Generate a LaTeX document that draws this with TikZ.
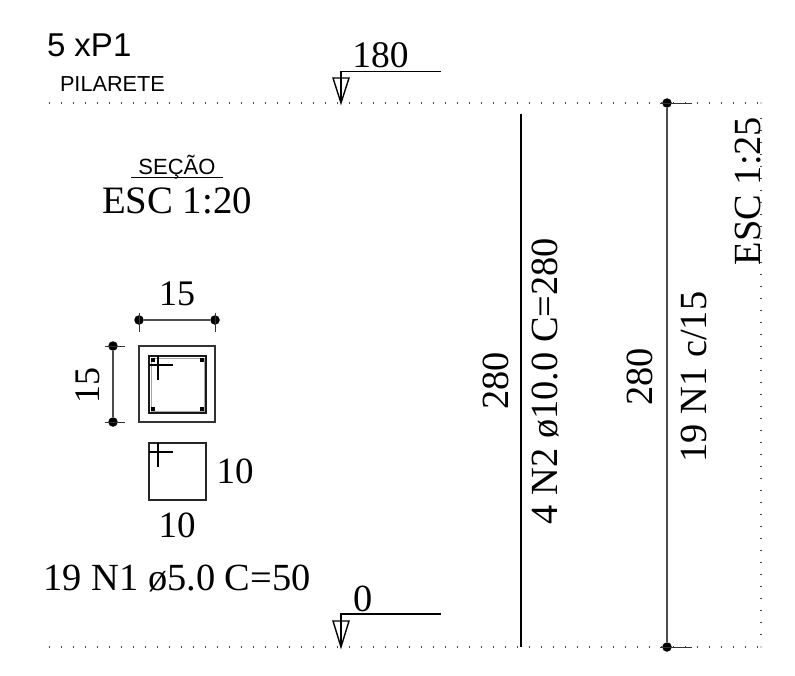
\documentclass[tikz,border=0pt]{standalone}
\usepackage{fontspec}
\setmainfont{Liberation Serif}
\newfontfamily\arialf{Liberation Sans}
\tikzset{
  lbl/.style={inner sep=0pt,outer sep=0pt,anchor=base,font=\fontsize{38.4}{40}\selectfont,text=black},
  lblv/.style={lbl,rotate=90},
  lblsans/.style={inner sep=0pt,outer sep=0pt,anchor=base west,text=black},
  pt/.style={circle,fill=black,inner sep=0pt,minimum size=9.5pt},
  bar/.style={rectangle,fill=black,inner sep=0pt,minimum size=4.5pt},
  dimline/.style={draw=black!70,line width=1.3pt},
  tick/.style={draw=black!80,line width=1pt},
  heavy/.style={draw=black,line width=1.4pt},
  thin/.style={draw=black,line width=1.1pt},
  gridline/.style={draw=black!70,line width=1.2pt,dash pattern=on 1.2pt off 10.8pt}
}
\begin{document}
\begin{tikzpicture}[x=1pt,y=-1pt]
\useasboundingbox (0,0) rectangle (795,675);
% dotted frame
\coordinate (tl) at (49,103); \coordinate (tr) at (758,103);
\coordinate (bl) at (49,647); \coordinate (br) at (758,647);
\coordinate (rt) at (761,118); \coordinate (rb) at (761,636);
\coordinate (c1) at (761,103); \coordinate (c2) at (761,647);
\draw[gridline] (tl) -- (tr);
\draw[gridline] (bl) -- (br);
\draw[gridline] (rt) -- (rb);
\fill[black!70] (c1) circle (.7pt) (c2) circle (.7pt);
% titles
\node[lblsans,font=\arialf\fontsize{33}{35}\selectfont] (title) at (47,56) {5 xP1};
\node[lblsans,font=\arialf\fontsize{21.7}{24}\selectfont] (pil) at (60,91) {PILARETE};
\node[lblsans,font=\arialf\fontsize{22}{24}\selectfont,anchor=base] (sec) at (177,174) {SEÇÃO};
\coordinate (ul1) at (131,177.5); \coordinate (ul2) at (223,177.5);
\draw[thin] (ul1) -- (ul2);
\node[lbl,font=\fontsize{38.8}{40}\selectfont] (esc20) at (177,213) {ESC 1:20};
% level marks
\coordinate (m1a) at (341,103); \coordinate (m1b) at (341,71.5); \coordinate (m1c) at (441,71.5);
\coordinate (m1l) at (333,78); \coordinate (m1r) at (349,78);
\draw[heavy] (m1a) -- (m1b) -- (m1c);
\draw[heavy,line join=miter] (m1l) -- (m1r) -- (m1a) -- cycle;
\node[lbl,font=\fontsize{37.5}{40}\selectfont] (lv180) at (380.5,67) {180};
\coordinate (m2a) at (341,647); \coordinate (m2b) at (341,614); \coordinate (m2c) at (441,614);
\coordinate (m2l) at (333,621); \coordinate (m2r) at (349,621);
\draw[heavy] (m2a) -- (m2b) -- (m2c);
\draw[heavy,line join=miter] (m2l) -- (m2r) -- (m2a) -- cycle;
\node[lbl] (lv0) at (363,611) {0};
% section
\draw[draw=black!80,line width=1.2pt] (139,346) rectangle (215,422);
\draw[draw=black!90,line width=1.2pt] (149,356) rectangle (206,413);
\draw[draw=black!35,line width=.5pt] (151,358) rectangle (204,411);
\foreach \n/\x/\y in {ba/153/360,bb/202/360,bc/153/409,bd/202/409}
  \node[bar] (\n) at (\x,\y) {};
\coordinate (h1a) at (149,365); \coordinate (h1b) at (173,365);
\coordinate (h1c) at (158,356); \coordinate (h1d) at (158,380);
\draw[thin] (h1a) -- (h1b); \draw[thin] (h1c) -- (h1d);
% top dimension
\node[pt] (d1) at (139,320) {}; \node[pt] (d2) at (215,320) {};
\draw[dimline] (d1) -- (d2);
\coordinate (d1a) at (139,313); \coordinate (d1b) at (139,332);
\coordinate (d2a) at (215,313); \coordinate (d2b) at (215,332);
\draw[tick] (d1a) -- (d1b); \draw[tick] (d2a) -- (d2b);
\node[lbl,font=\fontsize{36}{40}\selectfont] (t15) at (177,305) {15};
% left dimension
\node[pt] (d3) at (113,346) {}; \node[pt] (d4) at (113,422) {};
\draw[dimline] (d3) -- (d4);
\coordinate (d3a) at (105,346); \coordinate (d3b) at (125,346);
\coordinate (d4a) at (105,422); \coordinate (d4b) at (125,422);
\draw[tick] (d3a) -- (d3b); \draw[tick] (d4a) -- (d4b);
\node[lblv,font=\fontsize{36}{40}\selectfont] (l15) at (99,385) {15};
% stirrup detail
\draw[draw=black!85,line width=1.2pt] (149,443) rectangle (206,500);
\coordinate (h2a) at (149,452); \coordinate (h2b) at (173,452);
\coordinate (h2c) at (158,443); \coordinate (h2d) at (158,467);
\draw[thin] (h2a) -- (h2b); \draw[thin] (h2c) -- (h2d);
\node[lbl,font=\fontsize{37}{40}\selectfont] (r10) at (235,483) {10};
\node[lbl,font=\fontsize{37}{40}\selectfont] (b10) at (177,537) {10};
\node[lbl] (n1) at (177,590) {19 N1 ø5.0 C=50};
% bars
\coordinate (n2a) at (521,114); \coordinate (n2b) at (521,647);
\draw[draw=black,line width=1.3pt] (n2a) -- (n2b);
\node[lblv] (v280a) at (508,381) {280};
\node[lblv] (vn2) at (557,381) {4 N2 ø10.0 C=280};
% stirrups
\node[pt] (e1) at (667,103) {}; \node[pt] (e2) at (667,647) {};
\draw[dimline] (e1) -- (e2);
\coordinate (e1a) at (660,103); \coordinate (e1b) at (692,103);
\coordinate (e2a) at (660,647); \coordinate (e2b) at (692,647);
\draw[tick] (e1a) -- (e1b); \draw[tick] (e2a) -- (e2b);
\node[lblv] (v280b) at (652,377) {280};
\node[lblv] (vn1) at (706,377) {19 N1 c/15};
\node[lblv] (esc25) at (760,191) {ESC 1:25};
\end{tikzpicture}
\end{document}
